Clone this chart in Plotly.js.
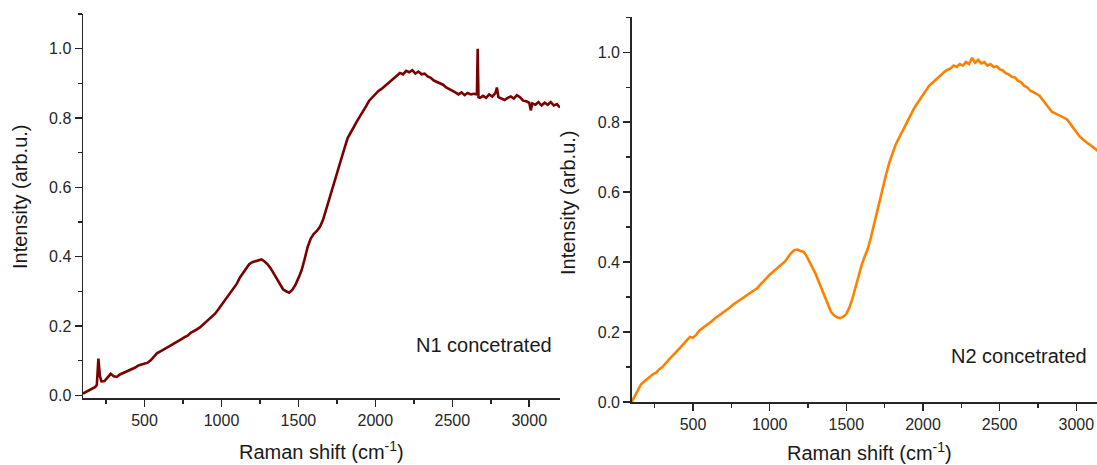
<!DOCTYPE html>
<html>
<head>
<meta charset="utf-8">
<script src="https://cdn.plot.ly/plotly-3.0.1.min.js"></script>
<style>html,body{margin:0;padding:0;background:#fff;}#chart{width:1097px;height:465px;}</style>
</head>
<body>
<div id="chart"></div>
<script>
// Raman shift (cm^-1) for sample N1
var n1Shift = [100,120,140,160,180,190,200,210,220,240,260,280,300,320,340,360,380,400,420,440,460,480,500,520,540,560,580,600,620,640,660,680,700,720,740,760,780,800,820,840,860,880,900,920,940,960,980,1000,1020,1040,1060,1080,1100,1120,1140,1160,1180,1200,1220,1240,1260,1280,1300,1320,1340,1360,1380,1400,1420,1440,1460,1480,1500,1520,1540,1560,1580,1600,1620,1640,1660,1680,1700,1720,1740,1760,1780,1800,1820,1840,1860,1880,1900,1920,1940,1960,1980,2000,2020,2040,2060,2080,2100,2120,2140,2160,2180,2200,2220,2240,2260,2280,2300,2320,2340,2360,2380,2400,2420,2440,2460,2480,2500,2520,2540,2560,2580,2600,2620,2640,2660,2665,2670,2680,2700,2720,2740,2760,2780,2790,2800,2820,2840,2860,2880,2900,2920,2940,2960,2980,3000,3010,3020,3040,3060,3080,3100,3120,3140,3160,3180,3200];
// Intensity N1 concetrated
var n1Intensity = [0.005,0.010,0.013,0.018,0.024,0.030,0.106,0.055,0.040,0.041,0.052,0.062,0.055,0.053,0.060,0.064,0.066,0.072,0.076,0.080,0.086,0.088,0.092,0.094,0.101,0.112,0.121,0.126,0.130,0.136,0.141,0.146,0.150,0.156,0.162,0.168,0.172,0.180,0.184,0.190,0.196,0.204,0.210,0.218,0.226,0.236,0.248,0.260,0.274,0.284,0.298,0.310,0.322,0.340,0.354,0.368,0.378,0.384,0.386,0.388,0.392,0.386,0.378,0.366,0.350,0.334,0.318,0.306,0.300,0.296,0.304,0.318,0.338,0.360,0.392,0.428,0.452,0.466,0.474,0.486,0.506,0.536,0.568,0.600,0.628,0.656,0.684,0.714,0.742,0.760,0.774,0.790,0.804,0.818,0.834,0.850,0.860,0.868,0.878,0.884,0.892,0.898,0.908,0.914,0.924,0.930,0.926,0.936,0.932,0.938,0.928,0.934,0.926,0.928,0.920,0.916,0.908,0.904,0.898,0.896,0.888,0.884,0.880,0.874,0.868,0.874,0.866,0.872,0.868,0.870,0.868,1.000,0.860,0.858,0.864,0.858,0.868,0.862,0.872,0.888,0.860,0.856,0.852,0.858,0.862,0.856,0.866,0.860,0.850,0.848,0.844,0.822,0.842,0.838,0.846,0.836,0.844,0.838,0.846,0.836,0.840,0.830];

// Raman shift (cm^-1) for sample N2
var n2Shift = [100,120,140,160,180,200,220,240,260,280,300,320,340,360,380,400,420,440,460,480,500,520,540,560,580,600,620,640,660,680,700,720,740,760,780,800,820,840,860,880,900,920,940,960,980,1000,1020,1040,1060,1080,1100,1120,1140,1160,1180,1200,1220,1240,1260,1280,1300,1320,1340,1360,1380,1400,1420,1440,1460,1480,1500,1520,1540,1560,1580,1600,1620,1640,1660,1680,1700,1720,1740,1760,1780,1800,1820,1840,1860,1880,1900,1920,1940,1960,1980,2000,2020,2040,2060,2080,2100,2120,2140,2160,2180,2200,2220,2240,2260,2280,2300,2320,2340,2360,2380,2400,2420,2440,2460,2480,2500,2520,2540,2560,2580,2600,2620,2640,2660,2680,2700,2720,2740,2760,2780,2800,2820,2840,2860,2880,2900,2920,2940,2960,2980,3000,3020,3040,3060,3080,3100,3120,3140];
// Intensity N2 concetrated
var n2Intensity = [0.000,0.018,0.036,0.050,0.058,0.066,0.072,0.080,0.084,0.094,0.100,0.110,0.122,0.130,0.138,0.148,0.156,0.168,0.176,0.186,0.184,0.192,0.204,0.210,0.216,0.222,0.230,0.238,0.244,0.250,0.258,0.264,0.270,0.278,0.284,0.290,0.294,0.302,0.306,0.312,0.320,0.326,0.336,0.344,0.354,0.364,0.372,0.378,0.386,0.394,0.402,0.414,0.426,0.434,0.436,0.432,0.430,0.418,0.402,0.386,0.366,0.344,0.322,0.298,0.276,0.258,0.248,0.242,0.240,0.244,0.252,0.270,0.296,0.330,0.362,0.392,0.416,0.438,0.470,0.508,0.546,0.584,0.618,0.652,0.684,0.712,0.734,0.752,0.770,0.786,0.802,0.822,0.838,0.852,0.866,0.880,0.894,0.904,0.912,0.920,0.930,0.938,0.944,0.950,0.954,0.962,0.958,0.966,0.962,0.972,0.966,0.984,0.970,0.978,0.968,0.972,0.962,0.966,0.958,0.960,0.952,0.948,0.940,0.936,0.930,0.928,0.918,0.914,0.904,0.900,0.890,0.886,0.880,0.876,0.864,0.852,0.840,0.830,0.826,0.822,0.818,0.814,0.808,0.796,0.784,0.770,0.760,0.752,0.744,0.738,0.732,0.726,0.718];

var sampleLabels = ['N1 concetrated', 'N2 concetrated'];
var xTitle = 'Raman shift (cm<sup>-1</sup>)';
var yTitle = 'Intensity (arb.u.)';

var W = 1097, H = 465;
var FONT = 'Liberation Sans, Arial, sans-serif';
var AX = '#262626';

function px(x){ return x / W; }
function py(y){ return 1 - y / H; }

var traces = [
  {x: n1Shift, y: n1Intensity, type: 'scatter', mode: 'lines', xaxis: 'x', yaxis: 'y',
   line: {color: '#7b0000', width: 2.6}, hoverinfo: 'x+y'},
  {x: n2Shift, y: n2Intensity, type: 'scatter', mode: 'lines', xaxis: 'x2', yaxis: 'y2',
   line: {color: '#ff8000', width: 2.6}, hoverinfo: 'x+y'}
];

function xaxisDef(domain, range){
  return {domain: domain, range: range, showgrid: false, zeroline: false,
    showline: true, linecolor: AX, linewidth: 1.5, mirror: false,
    ticks: 'outside', ticklen: 7, tickwidth: 1.5, tickcolor: AX,
    tick0: 0, dtick: 500, tickfont: {family: FONT, size: 16, color: AX},
    minor: {dtick: 250, tick0: 0, ticks: 'outside', ticklen: 4, tickwidth: 1.5, tickcolor: AX, showgrid: false},
    fixedrange: true};
}
function yaxisDef(domain, range, anchor){
  return {domain: domain, range: range, anchor: anchor, showgrid: false, zeroline: false,
    showline: true, linecolor: AX, linewidth: 1.5, mirror: false,
    ticks: 'outside', ticklen: 7, tickwidth: 1.5, tickcolor: AX,
    tick0: 0, dtick: 0.2, tickformat: '.1f', tickfont: {family: FONT, size: 16, color: AX},
    minor: {dtick: 0.1, tick0: 0, ticks: 'outside', ticklen: 4, tickwidth: 1.5, tickcolor: AX, showgrid: false},
    fixedrange: true};
}

var xa1 = xaxisDef([px(83), px(560)], [100, 3200]); xa1.anchor = 'y';
var xa2 = xaxisDef([px(631.7), 1], [100, 3135]); xa2.anchor = 'y2';
var ya1 = yaxisDef([py(398.3), py(14)], [-0.0087, 1.1], 'x');
var ya2 = yaxisDef([py(402), py(17.3)], [0, 1.1], 'x2');

function ann(text, x, y, opts){
  var a = {text: text, x: px(x), y: py(y), xref: 'paper', yref: 'paper', showarrow: false,
    font: {family: FONT, size: 20, color: '#1a1a1a'}, xanchor: 'center', yanchor: 'middle'};
  for (var k in (opts||{})) a[k] = opts[k];
  return a;
}

var layout = {
  width: W, height: H,
  margin: {l: 0, r: 0, t: 0, b: 0, pad: 0},
  paper_bgcolor: '#ffffff', plot_bgcolor: '#ffffff',
  showlegend: false,
  xaxis: xa1, yaxis: ya1, xaxis2: xa2, yaxis2: ya2,
  annotations: [
    ann(xTitle, 321.5, 450),
    ann(xTitle, 869, 451),
    ann(yTitle, 20, 197, {textangle: -90}),
    ann(yTitle, 568, 203, {textangle: -90}),
    ann(sampleLabels[0], 414, 345, {xanchor: 'left'}),
    ann(sampleLabels[1], 949, 356, {xanchor: 'left'})
  ]
};

Plotly.newPlot('chart', traces, layout, {displayModeBar: false, staticPlot: true});
</script>
</body>
</html>
